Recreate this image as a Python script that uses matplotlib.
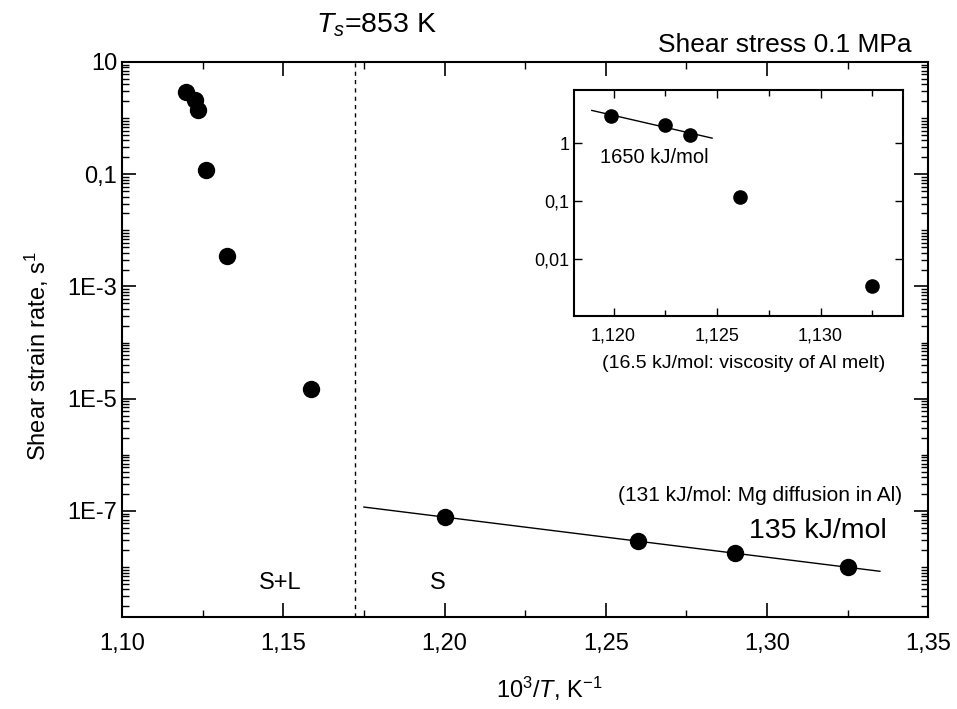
import numpy as np
import matplotlib
matplotlib.use("Agg")
import matplotlib.pyplot as plt
from matplotlib.ticker import FixedLocator, LogLocator, NullFormatter, FuncFormatter

plt.rcParams['font.family'] = ['Liberation Sans', 'DejaVu Sans']
plt.rcParams['mathtext.fontset'] = 'custom'
plt.rcParams['mathtext.rm'] = 'Liberation Sans'
plt.rcParams['mathtext.it'] = 'Liberation Sans:italic'

# main data: 10^3/T (1/K) and shear strain rate (1/s)
inv_T = [1.1199, 1.1225, 1.1237, 1.1261, 1.1325, 1.1585, 1.200, 1.260, 1.290, 1.325]
rate = [2.96, 2.07, 1.39, 0.12, 0.0035, 1.5e-5, 7.8e-8, 2.9e-8, 1.75e-8, 1.0e-8]

# solid region points used for the 135 kJ/mol fit
solid_T = inv_T[6:]
solid_rate = rate[6:]
solid_fit_range = [1.175, 1.335]

# inset: melt region points used for the 1650 kJ/mol fit
melt_T = inv_T[:3]
melt_rate = rate[:3]
melt_fit_range = [1.11895, 1.12476]

T_solidus = 853.0

x_ticks = [1.10, 1.15, 1.20, 1.25, 1.30, 1.35]
y_ticks = [10, 0.1, 1e-3, 1e-5, 1e-7]
y_labels = ['10', '0,1', '1E-3', '1E-5', '1E-7']
inset_x_ticks = [1.120, 1.125, 1.130]
inset_y_ticks = [1, 0.1, 0.01]
inset_y_labels = ['1', '0,1', '0,01']


def comma(v, pos=None, nd=2):
    return ('%.*f' % (nd, v)).replace('.', ',')


def ylab(v, pos=None):
    i = int(np.argmin([abs(np.log10(t) - np.log10(v)) for t in y_ticks]))
    return y_labels[i]


fig = plt.figure(figsize=(9.57, 7.09), dpi=100)
ax = fig.add_axes([0.1275, 0.13, 0.8425, 0.7826])

ax.plot(inv_T, rate, 'o', color='k', ms=11.5)

# fit line in the solid region
p = np.polyfit(solid_T, np.log10(solid_rate), 1)
xf = np.array(solid_fit_range)
ax.plot(xf, 10 ** np.polyval(p, xf), color='k', lw=1.0)

# solidus line
ax.axvline(1000.0 / T_solidus, color='k', ls=(0, (3, 3)), lw=1.0)

ax.set_yscale('log')
ax.set_xlim(1.10, 1.35)
ax.set_ylim(1.3e-9, 10)

ax.xaxis.set_major_locator(FixedLocator(x_ticks))
ax.xaxis.set_minor_locator(FixedLocator(np.arange(1.125, 1.35, 0.05)))
ax.xaxis.set_major_formatter(FuncFormatter(lambda v, pos: comma(v)))
ax.yaxis.set_major_locator(FixedLocator(y_ticks))
ax.yaxis.set_major_formatter(FuncFormatter(ylab))
ax.yaxis.set_minor_locator(LogLocator(base=10, subs=np.arange(1, 10), numticks=30))
ax.yaxis.set_minor_formatter(NullFormatter())

ax.tick_params(which='both', direction='in', top=True, right=True, labelsize=17)
ax.tick_params(which='major', length=10, width=1.2)
ax.tick_params(which='minor', length=5, width=1.0)
ax.tick_params(axis='x', pad=12)
for s in ax.spines.values():
    s.set_linewidth(1.5)

ax.set_xlabel(r'10$^3$/$T$, K$^{-1}$', fontsize=17)
ax.xaxis.set_label_coords(0.53, -0.105)
ax.set_ylabel(r'Shear strain rate, s$^1$', fontsize=17)
ax.yaxis.set_label_coords(-0.088, 0.47)

ax.text(1.149, 5.2e-9, 'S+L', fontsize=17, ha='center', va='center')
ax.text(1.198, 5.2e-9, 'S', fontsize=17, ha='center', va='center')
ax.text(1.342, 1.9e-7, '(131 kJ/mol: Mg diffusion in Al)', fontsize=15, ha='right', va='center')
ax.text(1.337, 4.4e-8, '135 kJ/mol', fontsize=20.5, ha='right', va='center')

fig.text(0.330, 0.964, r'$T_s$=853 K', fontsize=20.5, ha='left', va='center')
fig.text(0.953, 0.937, 'Shear stress 0.1 MPa', fontsize=19, ha='right', va='center')

# inset
axi = fig.add_axes([0.600, 0.554, 0.344, 0.319])
axi.plot(inv_T, rate, 'o', color='k', ms=9.5)
pm = np.polyfit(melt_T, np.log10(melt_rate), 1)
xm = np.array(melt_fit_range)
axi.plot(xm, 10 ** np.polyval(pm, xm), color='k', lw=1.0)
axi.set_yscale('log')
axi.set_xlim(1.1181, 1.1340)
axi.set_ylim(0.00105, 8.2)
axi.xaxis.set_major_locator(FixedLocator(inset_x_ticks))
axi.xaxis.set_minor_locator(FixedLocator([1.1225, 1.1275, 1.1325]))
axi.xaxis.set_major_formatter(FuncFormatter(lambda v, pos: comma(v, nd=3)))
axi.yaxis.set_major_locator(FixedLocator(inset_y_ticks))
axi.yaxis.set_major_formatter(FuncFormatter(lambda v, pos: inset_y_labels[int(round(-np.log10(v)))]))
axi.yaxis.set_minor_locator(FixedLocator([]))
axi.tick_params(which='both', direction='in', top=True, right=True, labelsize=13)
axi.tick_params(which='major', length=6, width=1.0)
axi.tick_params(which='minor', length=4, width=1.0)
axi.tick_params(axis='x', pad=8)
for s in axi.spines.values():
    s.set_linewidth(1.5)
axi.text(0.079, 0.70, '1650 kJ/mol', transform=axi.transAxes, fontsize=14.5, ha='left', va='center')
axi.text(0.515, -0.21, '(16.5 kJ/mol: viscosity of Al melt)', transform=axi.transAxes,
         fontsize=14, ha='center', va='center')

fig.savefig('out.png', dpi=100)
